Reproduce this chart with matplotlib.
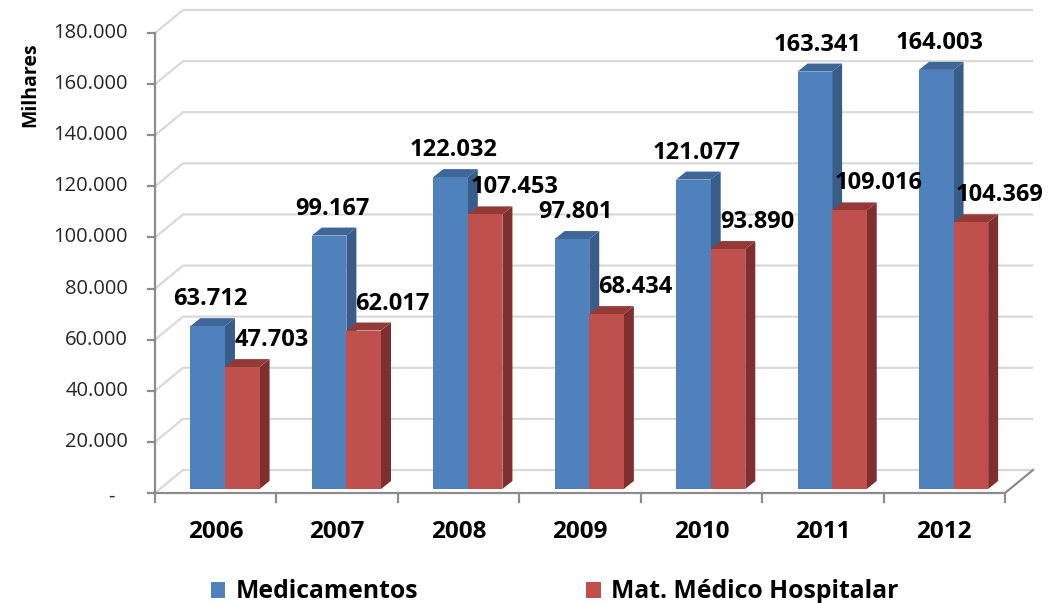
import matplotlib
matplotlib.use("Agg")
import matplotlib.pyplot as plt
from matplotlib.patches import Polygon, Patch

# Dados
anos = ["2006", "2007", "2008", "2009", "2010", "2011", "2012"]
medicamentos = [63712, 99167, 122032, 97801, 121077, 163341, 164003]
mat_medico = [47703, 62017, 107453, 68434, 93890, 109016, 104369]
yticks = [0, 20000, 40000, 60000, 80000, 100000, 120000, 140000, 160000, 180000]
series_names = ["Medicamentos", "Mat. Médico Hospitalar"]

plt.rcParams['font.family'] = ['Open Sans', 'DejaVu Sans']

W, H = 1060, 603
fig = plt.figure(figsize=(W / 100, H / 100), dpi=100)
ax = fig.add_axes([0, 0, 1, 1])
ax.set_axis_off()

# geometria em pixels -> unidades de dados
px_x0, px_unit = 155.0, 850.0 / 7     # eixo frontal, largura de uma categoria
px_y0, vpp = 493.0, 180000 / 460.0    # base e valor por pixel
xa = -0.5 - px_x0 / px_unit
ax.set_xlim(xa, xa + W / px_unit)
ax.set_ylim(-(H - px_y0) * vpp, px_y0 * vpp)

def px(n):
    return n / px_unit

def pv(n):
    return n * vpp

# profundidade (parede do fundo)
DX, DY = px(28), pv(23)
ncat = len(anos)
x_left, x_right = -0.5, ncat - 0.5

grid_c = "#D9D9D9"
axis_c = "#8C8C8C"
for v in yticks:
    ax.plot([x_left, x_left + DX, x_right + DX], [v, v + DY, v + DY],
            color=grid_c, lw=1.6, zorder=1, solid_capstyle='butt')

ax.plot([x_left, x_left], [0, yticks[-1]], color=axis_c, lw=1.6, zorder=2)
ax.plot([x_left, x_right, x_right + DX], [0, 0, DY], color=axis_c, lw=1.6, zorder=2)
for v in yticks:
    ax.plot([x_left - px(7), x_left], [v, v], color=axis_c, lw=1.6, zorder=2)
for k in range(ncat + 1):
    ax.plot([x_left + k, x_left + k], [0, -pv(9)], color=axis_c, lw=1.6, zorder=2)

# rótulos do eixo y (formato contábil: zero vira "-")
for v in yticks:
    if v == 0:
        ax.text(x_left - px(40), v - pv(4), "-", ha="right", va="center",
                fontsize=14.5, color="#262626")
    else:
        lab = f"{v:,.0f}".replace(",", ".")
        ax.text(x_left - px(27), v, lab, ha="right", va="center",
                fontsize=14.5, color="#262626")
ax.text(xa + px(30), pv(px_y0 - 85), "Milhares", rotation=90, ha="center",
        va="center", fontsize=14, fontweight="bold", color="#000000")

# barras 3D
w = 0.285
d0x, d0y = px(5), pv(4)       # deslocamento da face frontal
bdx, bdy = px(10), pv(8)      # profundidade da barra
styles = [
    dict(front="#4F81BD", side="#385D8A", top="#3E6697", off=-0.25),
    dict(front="#C0504D", side="#7F302E", top="#933A37", off=-0.25 + w),
]

for si, vals in enumerate([medicamentos, mat_medico]):
    st = styles[si]
    xs = [i + st["off"] + d0x for i in range(ncat)]
    ax.bar(xs, [v for v in vals], width=w, bottom=d0y, align="edge",
           color=st["front"], edgecolor="none", zorder=5 + si * 2)
    for x, v in zip(xs, vals):
        top = v + d0y
        side = Polygon([(x + w, d0y), (x + w + bdx, d0y + bdy),
                        (x + w + bdx, top + bdy), (x + w, top)],
                       closed=True, facecolor=st["side"], edgecolor="none",
                       zorder=4 + si * 2)
        topf = Polygon([(x, top), (x + bdx, top + bdy),
                        (x + w + bdx, top + bdy), (x + w, top)],
                       closed=True, facecolor=st["top"], edgecolor="none",
                       zorder=4 + si * 2)
        ax.add_patch(side)
        ax.add_patch(topf)
        lab = f"{v:,.0f}".replace(",", ".")
        lx = x + w / 2 + bdx / 2 + (px(24) if si == 1 else -px(2))
        ax.text(lx, top + bdy + pv(19), lab, ha="center", va="center",
                fontsize=17, fontweight="bold", color="#000000", zorder=10)

# rótulos das categorias
for i, a in enumerate(anos):
    ax.text(i, -pv(39), a, ha="center", va="center", fontsize=17.5,
            fontweight="bold", color="#000000")

# legenda
handles = [Patch(facecolor=styles[0]["front"]), Patch(facecolor=styles[1]["front"])]
fig.legend(handles, series_names, loc="center", bbox_to_anchor=(0.523, 1 - 592 / H),
           ncol=2, frameon=False, prop=dict(weight="bold", size=17.8),
           handlelength=0.6, handleheight=0.6, handletextpad=0.4, columnspacing=6.8)

fig.savefig("out.png", dpi=100)
